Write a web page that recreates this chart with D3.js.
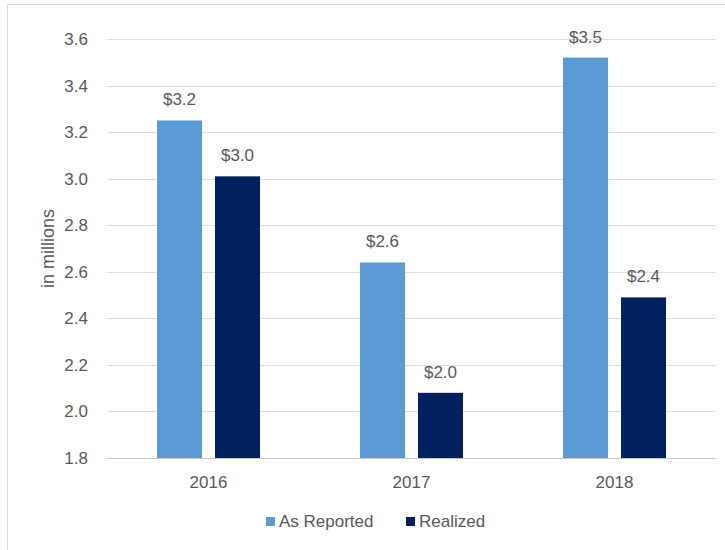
<!DOCTYPE html>
<html>
<head>
<meta charset="utf-8">
<script src="https://cdn.jsdelivr.net/npm/d3@7"></script>
<style>
  body { margin: 0; background: #fff; }
  text { font-family: "Liberation Sans", Arial, sans-serif; }
</style>
</head>
<body>
<div id="chart"></div>
<script>
// values (in millions)
var years = ["2016", "2017", "2018"]
var seriesNames = ["As Reported", "Realized"]
var asReported = [3.25, 2.64, 3.52]
var realized = [3.01, 2.08, 2.49]
var yTicks = [1.8, 2.0, 2.2, 2.4, 2.6, 2.8, 3.0, 3.2, 3.4, 3.6]

var colors = ["#5b9bd5", "#002060"]

var width = 725
var height = 550
// note: "top" is a window property, so use other names
var plotLeft = 107, plotRight = 716, plotTop = 39, plotBottom = 458
var fontSize = 17

var svg = d3.select("#chart").append("svg")
  .attr("width", width)
  .attr("height", height)

// chart frame (only the left and top edges show)
svg.append("line").attr("x1", 7.5).attr("x2", 7.5).attr("y1", 4).attr("y2", height)
  .attr("stroke", "#d9d9d9")
svg.append("line").attr("x1", 7).attr("x2", width).attr("y1", 4.5).attr("y2", 4.5)
  .attr("stroke", "#d9d9d9")

var y = d3.scaleLinear().domain([1.8, 3.6]).range([plotBottom, plotTop])

var x0 = d3.scaleBand().domain(years).range([plotLeft, plotRight])
// the two bars fill 103px in the middle of each 203px group
var groupW = 103
var x1 = d3.scaleBand().domain(seriesNames).range([0, groupW]).paddingInner(0.224)

// gridlines
svg.append("g").selectAll("line")
  .data(yTicks)
  .enter().append("line")
  .attr("x1", plotLeft).attr("x2", plotRight)
  .attr("y1", function(d) { return Math.round(y(d)) + 0.5 })
  .attr("y2", function(d) { return Math.round(y(d)) + 0.5 })
  .attr("stroke", function(d) { return d == 1.8 ? "#c8c8c8" : "#dedede" })
  .attr("stroke-width", 1)

// y tick labels
svg.append("g").selectAll("text")
  .data(yTicks)
  .enter().append("text")
  .attr("x", 88)
  .attr("y", function(d) { return y(d) })
  .attr("dy", "0.35em")
  .attr("text-anchor", "end")
  .attr("font-size", fontSize)
  .attr("fill", "#595959")
  .text(function(d) { return d3.format(".1f")(d) })

svg.append("text")
  .attr("transform", "translate(54," + ((plotTop + plotBottom) / 2) + ") rotate(-90)")
  .attr("text-anchor", "middle")
  .attr("font-size", fontSize + 1)
  .attr("fill", "#595959")
  .text("in millions")

var rows = years.map(function(yr, i) {
  return { year: yr, values: [
    { name: seriesNames[0], value: asReported[i] },
    { name: seriesNames[1], value: realized[i] }
  ] }
})

var group = svg.selectAll(".group")
  .data(rows)
  .enter().append("g")
  .classed("group", true)
  .attr("transform", function(d) {
    return "translate(" + (x0(d.year) + (x0.bandwidth() - groupW) / 2) + ",0)"
  })

group.selectAll("rect")
  .data(function(d) { return d.values })
  .enter().append("rect")
  .attr("x", function(d) { return x1(d.name) })
  .attr("width", x1.bandwidth())
  .attr("y", function(d) { return y(d.value) })
  .attr("height", function(d) { return plotBottom - y(d.value) })
  .attr("fill", function(d, i) { return colors[i] })

// labels show the value cut to one decimal, like the original
group.selectAll(".lbl")
  .data(function(d) { return d.values })
  .enter().append("text")
  .attr("class", "lbl")
  .attr("x", function(d) { return x1(d.name) + x1.bandwidth() / 2 })
  .attr("y", function(d) { return y(d.value) - 15 })
  .attr("text-anchor", "middle")
  .attr("font-size", fontSize)
  .attr("fill", "#595959")
  .text(function(d) { return "$" + (Math.floor(d.value * 10 + 1e-9) / 10).toFixed(1) })

// x labels
svg.append("g").selectAll("text")
  .data(years)
  .enter().append("text")
  .attr("x", function(d) { return x0(d) + x0.bandwidth() / 2 })
  .attr("y", 488)
  .attr("text-anchor", "middle")
  .attr("font-size", fontSize)
  .attr("fill", "#595959")
  .text(function(d) { return d })

// legend
var legendX = [266, 406]
var legend = svg.selectAll(".legend")
  .data(seriesNames)
  .enter().append("g")
  .attr("transform", function(d, i) { return "translate(" + legendX[i] + ",517)" })

legend.append("rect")
  .attr("width", 9).attr("height", 9)
  .attr("fill", function(d, i) { return colors[i] })

legend.append("text")
  .attr("x", 13).attr("y", 10)
  .attr("font-size", fontSize)
  .attr("fill", "#595959")
  .text(function(d) { return d })
</script>
</body>
</html>
